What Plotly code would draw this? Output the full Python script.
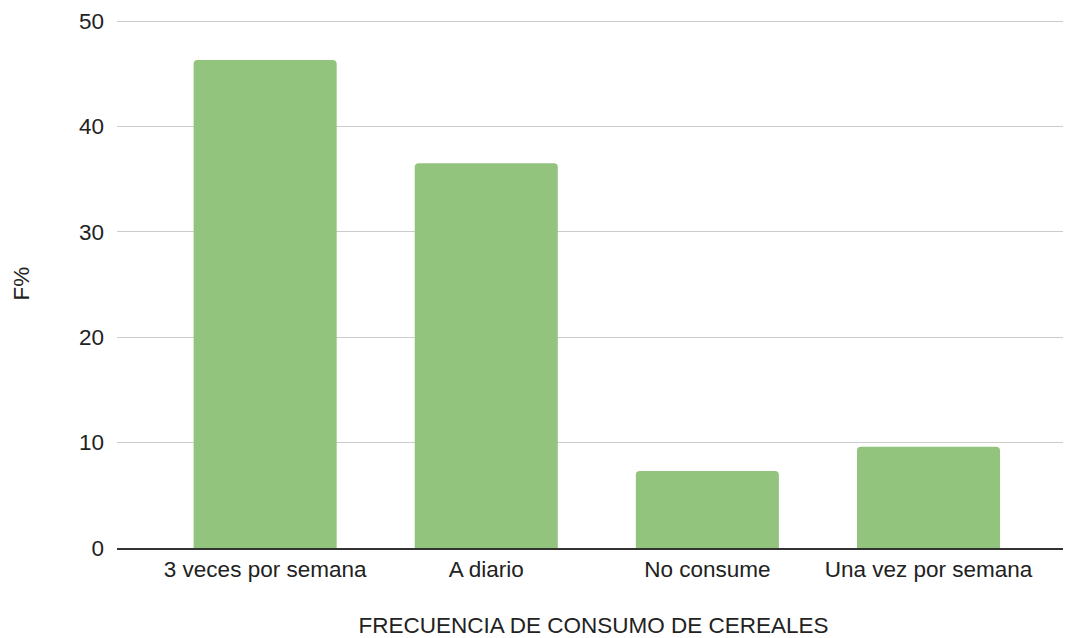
import plotly.graph_objects as go

categories = ["3 veces por semana", "A diario", "No consume", "Una vez por semana"]
values = [46.3, 36.5, 7.3, 9.6]
y_ticks = [0, 10, 20, 30, 40, 50]

x_title = "FRECUENCIA DE CONSUMO DE CEREALES"
y_title = "F%"

font_family = "Liberation Sans, Arial, sans-serif"
text_color = "#222222"
fs = 22.5

fig = go.Figure(
    go.Bar(
        x=categories,
        y=values,
        marker=dict(color="#93c47d", cornerradius=4, line=dict(width=0)),
        hoverinfo="x+y",
    )
)

fig.update_layout(
    width=1063,
    height=630,
    margin=dict(l=109, r=1, t=11, b=90),
    paper_bgcolor="white",
    plot_bgcolor="white",
    bargap=0.353,
    showlegend=False,
    font=dict(family=font_family, size=fs, color=text_color),
)

fig.update_xaxes(
    range=[-0.67, 3.64],
    showgrid=False,
    showline=True,
    linecolor="#333333",
    linewidth=2,
    ticks="",
    tickfont=dict(size=fs, color=text_color),
    title=dict(text=x_title, font=dict(size=fs, color=text_color), standoff=42),
    automargin=False,
)

fig.update_yaxes(
    range=[0, 50.2],
    tickvals=y_ticks,
    showgrid=True,
    gridcolor="#cccccc",
    gridwidth=1,
    zeroline=False,
    showline=False,
    ticks="",
    ticklabelstandoff=12,
    ticklabeloverflow="allow",
    tickfont=dict(size=fs, color=text_color),
    title=dict(text=y_title, font=dict(size=fs, color=text_color), standoff=43),
    automargin=False,
)

fig.write_html("out.html")
